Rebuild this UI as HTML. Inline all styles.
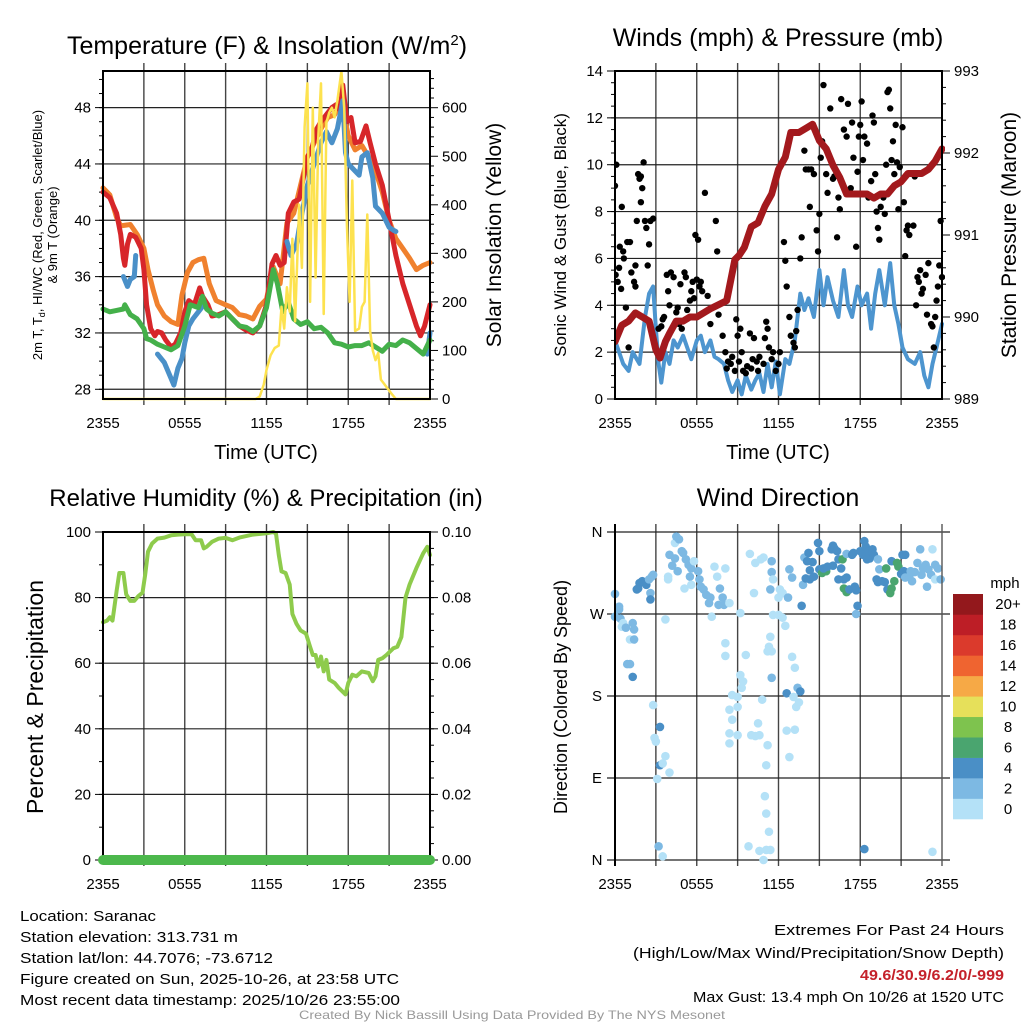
<!DOCTYPE html>
<html><head><meta charset="utf-8"><style>
html,body{margin:0;padding:0;background:#fff}
svg{display:block;font-family:"Liberation Sans",Arial,sans-serif}
</style></head><body>
<svg id="c" width="1024" height="1024" viewBox="0 0 1024 1024">
<rect width="1024" height="1024" fill="#fff"/>
<g id="panels"></g>
<text x="267" y="54" font-size="25" text-anchor="middle">Temperature (F) &amp; Insolation (W/m<tspan dy="-9" font-size="15">2</tspan><tspan dy="9">)</tspan></text>
<text x="778" y="46" font-size="25" text-anchor="middle">Winds (mph) &amp; Pressure (mb)</text>
<text x="266" y="506" font-size="24" text-anchor="middle">Relative Humidity (%) &amp; Precipitation (in)</text>
<text x="778" y="506" font-size="25" text-anchor="middle">Wind Direction</text>

<text transform="translate(42,235) rotate(-90)" font-size="13" text-anchor="middle">2m T, T<tspan font-size="9" dy="3">d</tspan><tspan dy="-3">, HI/WC (Red, Green, Scarlet/Blue)</tspan></text>
<text transform="translate(57,235) rotate(-90)" font-size="13" text-anchor="middle">&amp; 9m T (Orange)</text>
<text transform="translate(501,235) rotate(-90)" font-size="21" text-anchor="middle">Solar Insolation (Yellow)</text>
<text transform="translate(566,235) rotate(-90)" font-size="17" text-anchor="middle">Sonic Wind &amp; Gust (Blue, Black)</text>
<text transform="translate(1016,235) rotate(-90)" font-size="21" text-anchor="middle">Station Pressure (Maroon)</text>
<text transform="translate(43,697) rotate(-90)" font-size="23" text-anchor="middle">Percent &amp; Precipitation</text>
<text transform="translate(567,697) rotate(-90)" font-size="18" text-anchor="middle">Direction (Colored By Speed)</text>
<text x="266" y="459" font-size="20" text-anchor="middle">Time (UTC)</text>
<text x="778" y="459" font-size="20" text-anchor="middle">Time (UTC)</text>

<g font-size="15">
<text x="20" y="921" textLength="136" lengthAdjust="spacingAndGlyphs">Location: Saranac</text>
<text x="20" y="942" textLength="218" lengthAdjust="spacingAndGlyphs">Station elevation: 313.731 m</text>
<text x="20" y="963" textLength="253" lengthAdjust="spacingAndGlyphs">Station lat/lon: 44.7076; -73.6712</text>
<text x="20" y="984" textLength="379" lengthAdjust="spacingAndGlyphs">Figure created on Sun, 2025-10-26, at 23:58 UTC</text>
<text x="20" y="1005" textLength="380" lengthAdjust="spacingAndGlyphs">Most recent data timestamp: 2025/10/26 23:55:00</text>
</g>
<g font-size="15" text-anchor="end">
<text x="1004" y="935" textLength="230" lengthAdjust="spacingAndGlyphs">Extremes For Past 24 Hours</text>
<text x="1004" y="958" textLength="371" lengthAdjust="spacingAndGlyphs">(High/Low/Max Wind/Precipitation/Snow Depth)</text>
<text x="1004" y="980" font-weight="bold" fill="#c4212a" textLength="144" lengthAdjust="spacingAndGlyphs">49.6/30.9/6.2/0/-999</text>
<text x="1004" y="1002" textLength="311" lengthAdjust="spacingAndGlyphs">Max Gust: 13.4 mph On 10/26 at 1520 UTC</text>
</g>
<text x="512" y="1019" font-size="12" fill="#999" text-anchor="middle" textLength="426" lengthAdjust="spacingAndGlyphs">Created By Nick Bassill Using Data Provided By The NYS Mesonet</text>
</svg>
<script>
// ===== Data (hours since 2355 UTC) =====
var tRedH=[0,0.5,1,1.3,1.5,1.6,1.8,2,2.4,2.8,3,3.2,3.5,3.8,4,4.3,4.6,5,5.3,5.7,6,6.3,6.7,7.1,7.3,7.7,8,8.5,9,9.5,10,10.5,11,11.5,12,12.4,12.7,13,13.3,13.6,14,14.4,14.7,15,15.3,15.7,16,16.4,16.8,17.1,17.4,17.6,17.9,18.2,18.5,18.9,19.3,19.6,20,20.5,21,21.5,22,22.5,23,23.3,23.6,24];
var tRed=[42,41.6,40.5,39,37.3,36.8,38.3,39,38.8,38,36.5,34,32.3,31.8,32.1,32,31.5,31,31.2,32,33.5,34.3,34,35.2,34.6,34,33.2,33.3,33.5,33,32.5,32.2,32,32.5,34,36.9,37.5,36.8,37,40.5,41.3,41.5,43,44.5,45,46.5,47,47.5,48,48.2,47.8,49.6,47,47.3,45.5,45.6,46.7,45.5,44,42.5,40,37.5,35.5,34,32.5,31.8,32.5,34];
var tOrgH=[0,0.5,1,1.3,2,2.5,3,3.3,3.7,4,4.5,5,5.5,5.8,6.2,6.6,7,7.4,7.8,8.3,9,9.5,10,10.5,11,11.5,12,12.5,13,13.5,14,14.5,15,15.5,16,16.5,17,17.5,18,18.5,19,19.5,20,20.5,21,21.5,22,22.5,23,23.5,24];
var tOrg=[42.3,41.8,40.2,39.6,39.7,39,38,36.5,35,34,33.2,32.8,32.6,34.7,36.3,37,37.2,37.3,35.5,34.3,34,33.8,33.3,33.2,33,33.9,34.4,36.7,35.5,39.8,40.5,42.5,44.5,45.5,46.5,47.3,47.5,48.5,46,45,45.3,44.5,43.5,42,40,38.7,38,37.3,36.5,36.8,37];
var tGrnH=[0,0.5,1,1.5,1.6,2,2.5,3,3.2,3.5,4,4.5,5,5.5,6,6.4,7,7.3,7.6,8,8.5,9,9.5,10,10.5,11,11.5,12,12.5,12.8,13.2,13.6,14,14.5,15,15.5,16,16.5,17,17.5,18,18.5,19,19.5,20,20.5,21,21.5,22,22.5,23,23.5,24];
var tGrn=[33.7,33.5,33.6,33.7,34,33.3,33,32.3,31.6,31.5,31.2,31,30.8,31.1,32.5,34,33.8,34.6,33.7,33.4,33.2,33.5,33,32.5,32.4,32.1,32.5,33.8,36.5,35.5,33.5,34.2,33,32.6,32.8,32.3,32.4,32,31.3,31.2,31,31.1,31.1,31.3,31,30.7,31.2,31.1,31.5,31.3,30.9,30.5,31.5];
var tBluH=[1.5,1.8,2,2.3,2.4,null,4,4.5,5.2,5.5,5.8,6,6.3,6.6,7,7.4,null,13.5,13.8,14.2,14.5,15,15.5,16,16.4,16.8,17.2,17.6,17.8,18,18.5,18.8,19,19.4,19.8,20,20.5,21,21.3,21.5,null,23.8,24];
var tBlu=[36,35.3,35.8,36,37.5,null,30.5,29.9,28.3,29.5,30.2,31.3,32.5,33,33.5,34,null,38.5,37.5,38.3,40,42.5,44,45.5,46.3,45.5,46.5,48.5,44.8,44,43.5,43.2,44.5,44.8,43,41,40.5,39.5,39.3,39.2,null,30.5,32];
var solH=[0,11.2,11.5,11.8,12,12.3,12.6,12.9,13.1,13.3,13.5,13.7,13.9,14.1,14.4,14.6,14.8,15,15.2,15.4,15.6,15.8,16,16.2,16.4,16.6,16.8,17,17.2,17.5,17.7,17.9,18.1,18.3,18.5,18.8,19,19.2,19.4,19.6,19.8,20,20.2,20.4,20.8,21.2,21.5,24];
var sol=[0,0,5,30,60,90,105,110,190,145,230,180,330,160,400,270,560,650,200,600,250,540,650,175,570,590,600,580,615,675,600,360,200,450,140,145,190,200,380,140,100,80,95,40,25,10,0,0];
var windH=[0,0.3,0.6,1,1.3,1.8,2.2,2.5,2.8,3,3.2,3.4,3.7,4,4.3,4.6,5,5.3,5.6,6,6.3,6.6,7,7.3,7.6,8,8.3,8.6,9,9.3,9.6,10,10.3,10.6,10.9,11.2,11.5,11.8,12.1,12.5,12.8,13.2,13.6,13.9,14.2,14.6,15,15.3,15.6,16,16.4,16.8,17.1,17.4,17.8,18.1,18.5,18.8,19.1,19.4,19.8,20.2,20.5,20.8,21.1,21.5,22,22.4,22.7,23,23.3,23.6,24];
var wind=[2.5,2,1.5,1.2,2,1.5,3.5,4.5,4.8,3,1.5,0.7,2,1.5,2.5,2.2,2.7,2.2,1.7,2.5,2.7,2,2.5,1.8,1.7,1.5,0.8,0.3,0.8,0.2,1,0.4,0.8,1.1,0.3,1.5,0.5,1.6,0.2,1.7,1.5,2.5,4.5,3.8,4.3,3.5,5.5,4,5.2,4.2,3.5,5.5,4,3.5,4.8,4,4.5,3,4.5,5.5,4,5.8,4,3.2,2.2,1.7,1.5,2,1,0.5,1.5,2.2,3.2];
var presH=[0,0.5,1,1.5,2,2.5,3,3.3,3.7,4,4.5,5,5.5,6,6.5,7,7.6,8.2,8.8,9.1,9.5,10,10.5,11,11.5,12,12.5,12.9,13.2,13.5,14,14.5,15,15.5,16,16.5,17,17.5,18,18.5,19,19.5,20,20.5,21,21.5,22,22.5,23,23.5,24];
var pres=[989.7,989.9,989.95,990.05,990,989.95,989.6,989.5,989.7,989.8,989.95,989.95,990,990,990.05,990.1,990.15,990.2,990.7,990.75,990.85,991.1,991.15,991.35,991.5,991.8,991.95,992.25,992.25,992.25,992.3,992.35,992.15,992.05,991.85,991.7,991.5,991.5,991.5,991.5,991.45,991.5,991.5,991.6,991.65,991.75,991.75,991.75,991.8,991.9,992.05];
var gustH=[0,0.05,0.1,0.2,0.3,0.35,0.45,0.5,0.6,0.65,0.8,0.9,1,1.1,1.2,1.4,1.5,1.5,1.6,1.7,1.8,1.9,1.9,2,2.1,2.2,2.3,2.4,2.5,2.6,2.8,3.1,3.2,3.4,3.5,3.6,3.8,3.9,4,4.1,4.3,4.5,4.6,4.7,4.8,4.9,5.1,5.2,5.3,5.5,5.6,5.7,5.8,5.9,6,6.1,6.2,6.3,6.4,6.6,6.8,7,7.4,7.5,7.6,7.9,8.1,8.2,8.3,8.5,8.6,8.8,8.9,9,9.1,9.2,9.3,9.4,9.6,9.7,9.9,10,10.1,10.2,10.4,10.5,10.6,10.9,11,11.1,11.2,11.3,11.5,11.6,11.8,12,12.1,12.4,12.5,12.6,12.8,12.9,13.1,13.2,13.3,13.4,13.6,13.7,13.9,14,14.2,14.3,14.4,14.6,14.8,14.9,15,15.1,15.2,15.3,15.5,15.6,15.7,15.8,16,16.1,16.3,16.4,16.5,16.6,16.8,17,17.1,17.3,17.4,17.5,17.7,17.8,17.9,18,18.1,18.2,18.3,18.5,18.6,18.8,18.9,19,19.1,19.2,19.3,19.4,19.5,19.7,19.8,19.9,20,20.1,20.2,20.3,20.4,20.5,20.6,20.7,20.8,20.9,21.1,21.2,21.3,21.4,21.5,21.6,21.9,22,22.1,22.2,22.3,22.4,22.5,22.6,22.8,22.9,23,23.2,23.3,23.4,23.5,23.6,23.7,23.8,23.9,24];
var gust=[9.1,5.3,10,5,5.6,6.5,4.7,8.2,6.3,6,3.9,6.7,2.2,6.7,5.4,5,4.8,5.7,7.6,9.6,9.4,8.4,9.5,9,10.1,7.6,7.3,5.7,6.6,7.6,7.7,2,3,3.1,3.4,3.5,5.3,4.6,4,5.4,5.2,3.7,3.9,3.2,4.9,3,5.4,5.2,3.8,4.2,4.6,5,4.3,7,5.1,6.8,4.8,5,4.6,8.8,4.4,3.2,7.6,6.3,3.6,2.7,2,1.3,1.6,1.5,1.8,1.2,3.4,2.7,1.6,3,2,1.2,1.1,1.4,2.8,1.3,1.7,2.6,1.6,1.2,1.8,1.5,2.6,3.3,3,2.2,1.7,2,1.2,1.5,2,6.7,5.9,4.8,3.5,2.7,2.4,2.2,2.9,3.8,6,6.9,10.6,9.8,9.8,8.2,9.8,9.6,7.2,6.3,7.9,10.3,11,13.4,9.6,8.8,10.4,12.4,9.4,9.5,6.9,8.6,8.1,12.8,11.5,11.2,12.6,9,11.8,10.3,6.5,9.7,11.2,11.7,12.7,10.2,11.2,10.9,8.6,9.3,12.1,11.8,9.6,8,7.3,6.8,8.2,8.6,7.9,10,13.1,13.2,12.4,10.2,11,9.6,11.7,10.1,8.1,9.9,11.6,8.4,6.1,7.2,7.4,7,7.4,9.5,4,5.2,5,5.5,4.5,4.7,5.3,3.6,5.8,3.2,3.1,2.2,3.5,4.2,4.8,5.7,7.6,5.2];
var rhH=[0,0.3,0.5,0.7,0.8,1,1.2,1.5,1.7,2,2.3,2.6,2.9,3.1,3.3,3.6,4,4.5,5,5.5,6,6.5,6.8,7.2,7.4,7.6,8,8.5,9,9.5,10,11,12,12.5,12.7,12.9,13.1,13.4,13.7,13.9,14.2,14.5,14.9,15.2,15.4,15.6,15.8,16,16.2,16.4,16.6,17,17.3,17.8,18,18.3,18.6,19,19.5,19.8,20,20.2,20.5,20.8,21.3,21.6,21.9,22.2,22.5,23,23.5,23.8,24];
var rh=[72.5,73,74,73,76,82,87.5,87.5,81,79,79,80.5,81.5,87,94,96.5,98,98.3,99,99.2,99.3,99.3,97.5,97.5,95,95.5,97,98,98.2,97.5,98.3,99.2,99.6,100,99.5,93,88,87.5,84,75,72,70,69,65,62.5,62.5,59,62,57.5,61,55,54,52.5,50.5,54,56.5,56,57.5,57,54.5,56,61,61.5,62.5,64.5,65,68,80,84,89,93.5,95.5,93];
var precipH=[0,24];
var precip=[0,0];
// wind direction observations: [hour, degrees, speed mph]
var dirObs=[[0,292,3],[0.3,278,2.5],[0.3,275,2.5],[0,267,3],[0.4,265,2.5],[0.5,256,1],[0.6,260,1.5],[0.8,255,2.5],[1.3,260,3],[1.4,253,2.5],[1.1,242,1.5],[1.4,242,2],[0.9,215,3],[1.1,215,3],[1.3,201,4],
[1.6,297,4.5],[1.8,304,4.5],[2.0,306,4.5],[2.2,304,4.5],[2.3,302,4.5],[2.5,308,3],[2.7,311,3],[2.8,313,3],[2.6,293,3],[2.6,286,4],[1.7,298,4.5],
[2.8,170,1],[3.3,146,4],[2.9,134,1],[3.0,130,1],[3.3,104,4],[3.5,106,1],[3.1,89,1],[3.7,114,1],[4.0,96,1],[3.2,15,3],[3.5,4,1],
[3.7,264,1],[4.0,335,3],[3.9,311,1],[3.9,308,1],[4.2,323,3],[4.4,331,3],[4.4,348,1],[4.5,355,2],[4.7,352,2],[4.6,317,2.5],[4.9,339,2.5],[5.0,337,2.5],[5.2,330,2.5],[5.4,324,2.5],[5.6,320,2.5],[5.1,298,1],[5.5,311,3],[5.6,302,1],[5.8,328,1],[6.1,317,2.5],[6.2,308,2.5],[6.3,300,2.5],[6.5,297,2.5],[6.7,291,2.5],[6.9,282,2.5],[7.0,288,2.5],[7.3,322,1],[7.5,311,1.5],[7.7,298,2.5],[7.1,267,1],[7.9,288,2.5],[8.0,280,2.5],[8.1,320,1],[7.6,280,2.5],[8.4,282,1],
[8.1,238,1],[8.1,224,1],[8.6,181,1],[8.4,165,1],[8.6,154,1],[8.4,139,1],[8.4,128,1],[9.0,179,1],[9.0,168,1],[9.0,137,1],[9.2,203,1],[9.4,196,1],[9.3,189,1],[9.6,225,1],[9.2,271,1],[9.9,336,1],[10.0,137,1],[10.3,136,1],[10.6,137,1],[10.8,176,1],[10.5,150,1],[10.3,326,1],[10.2,293,1],[10.7,330,1],[10.9,332,1],[11.5,328,3],[11.5,316,3],[11.4,297,3],[11.6,308,1],[11.2,229,1],[11.3,234,1],[11.4,245,1],[11.5,200,2],[11.5,229,1],[11.6,269,1],[11.2,126,1],[11.1,104,1],[11.0,70,1],[11.1,51,1],[11.3,31,1],[11.1,11,1],[11.4,11,1],[10.9,0,1],[9.8,15,1],[10.6,10,1],
[12.1,297,1],[12.3,293,1],[12.0,269,1],[12.3,266,1],[12.5,257,1],[12.0,288,1],[12.7,288,3],[12.8,319,3],[13.0,310,3],[13.0,223,1],[13.2,211,1],[12.6,183,4],[13.1,179,1],[13.4,189,3],[13.6,185,4],[13.5,173,1],[13.3,168,1],[13.2,143,1],[12.6,142,1],[12.8,113,1],
[13.7,279,4],[13.8,302,3],[13.9,332,3],[14.2,337,4],[14.1,328,4],[14.3,318,4],[14.5,327,4],[14.0,309,4],[14.3,308,4],[14.6,311,4],[14.9,348,4],[15.0,339,4],[15.0,319,4],[15.2,315,6.5],[15.5,317,6.5],[15.3,320,4],[15.6,322,4],[15.9,341,4],[16.0,345,4],[16.1,342,4],[16.3,339,4],[16.0,323,4],[16.4,330,4],[16.7,330,6.5],[17.0,336,2.5],[16.6,320,4],[16.4,308,4],[16.8,308,4],[16.8,298,6.5],[17.0,294,6.5],[17.2,297,4],[17.4,335,4],[17.5,337,4],[17.0,310,4],[17.6,300,4],[17.7,296,4],[17.8,279,4],[17.7,270,2],[18.0,339,4],[18.2,335,4],[18.3,350,4],[18.4,344,4],[18.6,339,4],[18.7,331,4],[18.9,341,4],[18.5,330,4],[19.0,335,4],[19.3,330,2.5],[19.4,319,2.5],[19.2,308,4],[19.3,305,4],[19.6,306,4],[19.8,305,4],[20.0,297,4],[20.2,293,6.5],[20.3,298,6.5],[20.5,306,6.5],[20.3,328,4],[19.9,320,6.5],[20.7,326,6.5],[20.8,322,6.5],[21.1,335,4],[21.3,335,4],[21.0,314,4],[21.2,317,4],[21.3,310,3],[21.6,311,3],[21.8,306,3],[22.0,316,3],[22.2,326,3],[22.6,320,3],[22.8,324,3],[23.0,319,3],[23.2,313,3],[22.4,341,3],[23.3,341,1],[22.9,300,3],[23.5,324,3],[23.7,320,3],[23.5,308,1],[23.9,308,3],[21.7,317,3],[22.5,313,3],[18.3,12,4],[23.3,9,1]];
var timeTicks=["2355","0555","1155","1755","2355"];
var dirTicks=["N","E","S","W","N"];
var cbLabels=["0","2","4","6","8","10","12","14","16","18","20+"];
var cbColors=["#b4e1f7","#7db9e3","#4a8fc6","#4aa56f","#7ec34e","#e6e05a","#f6a946","#ef6430","#db3a2c","#bd1e26","#93181c"];

// ===== Helpers =====
var NS="http://www.w3.org/2000/svg";
var root=document.getElementById('panels');
function mk(tag,attrs,parent){var e=document.createElementNS(NS,tag);for(var k in attrs)e.setAttribute(k,attrs[k]);(parent||root).appendChild(e);return e;}
function lin(d0,d1,r0,r1){return function(v){return r0+(v-d0)/(d1-d0)*(r1-r0);};}
function pathD(xs,ys,sx,sy){var d="",pen=false;for(var i=0;i<xs.length;i++){if(xs[i]===null||ys[i]===null){pen=false;continue;}d+=(pen?"L":"M")+sx(xs[i]).toFixed(1)+","+sy(ys[i]).toFixed(1);pen=true;}return d;}
function frame(L,T,R,B,name){
  var g=mk('g',{});
  
  
  var sx=lin(0,24,L,R);
  for(var h=3;h<24;h+=3){var l=mk('line',{x1:sx(h),x2:sx(h),y1:T-8,y2:B+6,stroke:'#444','stroke-width':1.4},g);}
  for(var i=0;i<timeTicks.length;i++){var x=sx(i*6);var t=mk('text',{x:x,y:B+29,'font-size':15,'text-anchor':'middle'},g);t.textContent=timeTicks[i];}
  return {g:g,sx:sx};
}
function label(g,x,y,txt,anchor,name){var t=mk('text',{x:x,y:y+5,'font-size':15,'text-anchor':anchor},g);t.textContent=txt;}
function box(g,L,T,R,B){mk('rect',{x:L,y:T,width:R-L,height:B-T,fill:'none',stroke:'#000','stroke-width':2},g);}
function line(g,xs,ys,sx,sy,color,w,name){var p=mk('path',{d:pathD(xs,ys,sx,sy),fill:'none',stroke:color,'stroke-width':w,'stroke-linejoin':'round','stroke-linecap':'round'},g);return p;}

// ===== Panel 1: Temperature =====
(function(){
  var L=103,T=71,R=430,B=399;
  var f=frame(L,T,R,B,'temperature-panel');var g=f.g,sx=f.sx;
  var tsy=lin(27.31,50.6,B,T);
  for(var v=28;v<=48;v+=4){mk('line',{x1:L,x2:R,y1:tsy(v),y2:tsy(v),stroke:'#222','stroke-width':1.2},g);mk('line',{x1:L-8,x2:L,y1:tsy(v),y2:tsy(v),stroke:'#000'},g);label(g,L-12,tsy(v),String(v),'end','temperature-tick-label');}
  for(var v=28;v<=50;v++){mk('line',{x1:L-4,x2:L,y1:tsy(v),y2:tsy(v),stroke:'#000'},g);}
  var ssy=lin(0,675.6,B,T);
  for(var v=0;v<=660;v+=20){var len=(v%100===0)?8:4;mk('line',{x1:R,x2:R+len,y1:ssy(v),y2:ssy(v),stroke:'#000'},g);}
  for(var v=0;v<=600;v+=100){label(g,R+12,ssy(v),String(v),'start','solar-tick-label');}
  var clip=mk('clipPath',{id:'c1'});mk('rect',{x:L-3,y:T-3,width:R-L+6,height:B-T+6},clip);
  var cg=mk('g',{'clip-path':'url(#c1)'},g);
  line(cg,tOrgH,tOrg,sx,tsy,'#f0812e',5,'temperature-9m-line');
  line(cg,tRedH,tRed,sx,tsy,'#d7262a',5,'temperature-2m-line');
  line(cg,tBluH,tBlu,sx,tsy,'#4a90c8',5,'windchill-line');
  line(cg,tGrnH,tGrn,sx,tsy,'#44b04a',5,'dewpoint-line');
  box(g,L,T,R,B);
  line(cg,solH,sol,sx,ssy,'#fde24f',2.5,'solar-line');
})();

// ===== Panel 2: Wind & pressure =====
(function(){
  var L=615,T=71,R=942,B=399;
  var f=frame(L,T,R,B,'wind-panel');var g=f.g,sx=f.sx;
  var wsy=lin(0,14,B,T);
  for(var v=0;v<=14;v+=2){mk('line',{x1:L,x2:R,y1:wsy(v),y2:wsy(v),stroke:'#222','stroke-width':1.2},g);mk('line',{x1:L-8,x2:L,y1:wsy(v),y2:wsy(v),stroke:'#000'},g);label(g,L-12,wsy(v),String(v),'end','wind-tick-label');}
  for(var v=0;v<=14;v+=0.5){mk('line',{x1:L-4,x2:L,y1:wsy(v),y2:wsy(v),stroke:'#000'},g);}
  var psy=lin(989,993,B,T);
  for(var v=989;v<=993.001;v+=0.2){var m=Math.abs(v-Math.round(v))<1e-6;mk('line',{x1:R,x2:R+(m?8:4),y1:psy(v),y2:psy(v),stroke:'#000'},g);}
  for(var v=989;v<=993;v++){label(g,R+12,psy(v),String(v),'start','pressure-tick-label');}
  var clip=mk('clipPath',{id:'c2'});mk('rect',{x:L,y:T-3,width:R-L+3,height:B-T+6},clip);
  var cg=mk('g',{'clip-path':'url(#c2)'},g);
  line(cg,windH,wind,sx,wsy,'#4d95cf',4,'sonic-wind-line');
  for(var i=0;i<gustH.length;i++){var c=mk('circle',{cx:sx(gustH[i]),cy:wsy(gust[i]),r:3.2,fill:'#000'},cg);}
  line(cg,presH,pres,sx,psy,'#a3191d',7,'pressure-line');
  box(g,L,T,R,B);
})();

// ===== Panel 3: RH & precip =====
(function(){
  var L=103,T=532,R=430,B=860;
  var f=frame(L,T,R,B,'humidity-panel');var g=f.g,sx=f.sx;
  var rsy=lin(0,100,B,T);
  for(var v=0;v<=100;v+=20){mk('line',{x1:L,x2:R,y1:rsy(v),y2:rsy(v),stroke:'#222','stroke-width':1.2},g);mk('line',{x1:L-8,x2:L,y1:rsy(v),y2:rsy(v),stroke:'#000'},g);label(g,L-12,rsy(v),String(v),'end','humidity-tick-label');}
  for(var v=0;v<=100;v+=10){mk('line',{x1:L-4,x2:L,y1:rsy(v),y2:rsy(v),stroke:'#000'},g);}
  var psy=lin(0,0.1,B,T);
  for(var v=0;v<=0.1001;v+=0.005){mk('line',{x1:R,x2:R+4,y1:psy(v),y2:psy(v),stroke:'#000'},g);}
  for(var i=0;i<=5;i++){var v=i*0.02;mk('line',{x1:R,x2:R+8,y1:psy(v),y2:psy(v),stroke:'#000'},g);label(g,R+12,psy(v),v.toFixed(2),'start','precip-tick-label');}
  line(g,rhH,rh,sx,rsy,'#8ecb4c',4,'humidity-line');
  box(g,L,T,R,B);
  line(g,precipH,precip,sx,psy,'#4cb84c',10,'precip-line');
})();

// ===== Panel 4: Wind direction =====
(function(){
  var L=615,T=532,R=942,B=860;
  var f=frame(L,T,R,B,'direction-panel');var g=f.g,sx=f.sx;
  var dsy=lin(0,360,B,T);
  for(var i=0;i<dirTicks.length;i++){var v=i*90;mk('line',{x1:L-8,x2:R+8,y1:dsy(v),y2:dsy(v),stroke:'#222','stroke-width':1.2},g);label(g,L-18,dsy(v),dirTicks[i],'middle','direction-tick-label');}
  function col(s){var k=Math.min(10,Math.floor(s/2));return cbColors[k];}
  for(var i=0;i<dirObs.length;i++){var o=dirObs[i];var c=mk('circle',{cx:sx(o[0]),cy:dsy(o[1]),r:4.3,fill:col(o[2])},g);}
  mk('line',{x1:L,x2:L,y1:T-8,y2:B+6,stroke:'#000','stroke-width':2},g);
  mk('line',{x1:R,x2:R,y1:T-8,y2:B+6,stroke:'#555','stroke-width':1.4},g);
  var cb=mk('g',{});
  
  
  var t=mk('text',{x:1005,y:588,'font-size':15,'text-anchor':'middle'},cb);t.textContent='mph';
  var cbB=819,cbT=594,h=(cbB-cbT)/cbColors.length;
  for(var i=0;i<cbColors.length;i++){var y=cbB-(i+1)*h;var r=mk('rect',{x:953,y:y,width:30,height:h+0.3,fill:cbColors[i]},cb);
    var tl=mk('text',{x:1008,y:y+h/2+5,'font-size':15,'text-anchor':'middle'},cb);tl.textContent=cbLabels[i];}
})();
</script>
</body></html>
